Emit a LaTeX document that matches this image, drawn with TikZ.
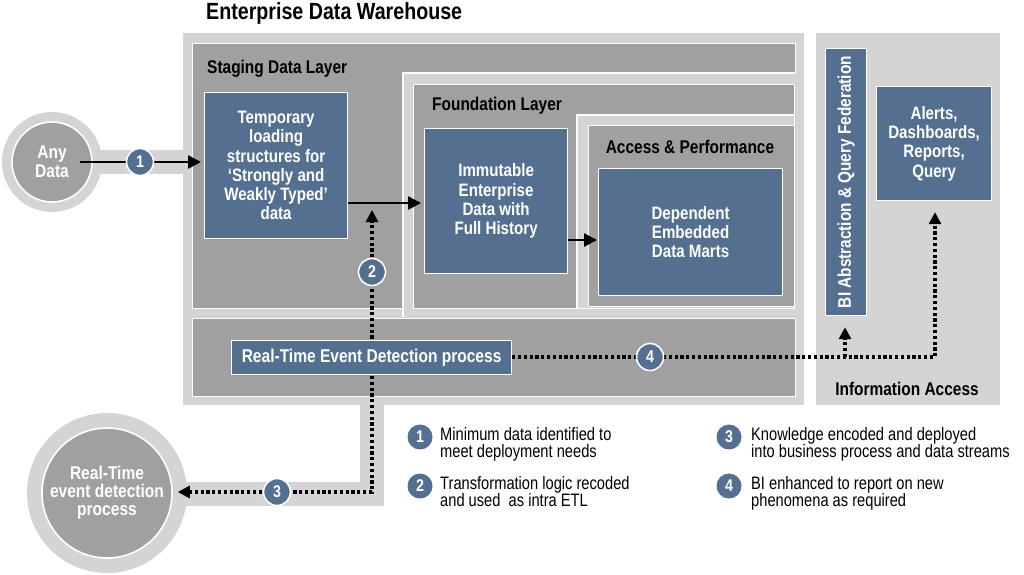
\documentclass[tikz,border=0pt]{standalone}
\usepackage{fontspec}
\setmainfont{Liberation Sans}[FakeStretch=0.84]
\newfontfamily\legfont{Liberation Sans}[FakeStretch=0.815]
\usetikzlibrary{arrows.meta}
\definecolor{lg}{RGB}{212,212,212}
\definecolor{dg}{RGB}{160,160,160}
\definecolor{bl}{RGB}{84,111,143}
\tikzset{
  panel/.style={fill=dg, draw=white, line width=1.2pt, anchor=north west, inner sep=0pt},
  outerbox/.style={fill=lg, draw=none, anchor=north west, inner sep=0pt},
  bluebox/.style={fill=bl, draw=white, line width=1.2pt, text=white, align=center,
    font=\bfseries\fontsize{18}{19.3}\selectfont, anchor=north west, inner sep=0pt},
  layerlabel/.style={font=\bfseries\fontsize{18.4}{20}\selectfont, anchor=west, inner sep=0pt},
  badge/.style={circle, fill=bl, draw=white, line width=1.6pt, minimum size=27pt, inner sep=0pt,
    text=white, font=\bfseries\fontsize{17}{17}\selectfont},
  legbadge/.style={circle, fill=bl, draw=none, minimum size=25pt, inner sep=0pt,
    text=white, font=\bfseries\fontsize{17}{17}\selectfont},
  legtext/.style={font=\legfont\fontsize{18}{17.5}\selectfont, align=left, anchor=north west, inner sep=0pt},
  solidarrow/.style={line width=2.6pt, -{Triangle[length=13pt,width=13pt]}},
  dots/.style={line width=3.2pt, dash pattern=on 3.2pt off 2.6pt},
  dottip/.tip={Triangle[length=12pt,width=12pt]},
}
\begin{document}
\begin{tikzpicture}[x=1pt,y=-1pt]
\useasboundingbox (0,0) rectangle (1024,574);
\fill[white] (0,0) rectangle (1024,574);

% title
\node[font=\bfseries\fontsize{23.4}{25}\selectfont, anchor=west, inner sep=0pt] (title) at (206,13) {Enterprise Data Warehouse};

% light grey connecting bars
\fill[lg] (50,150) rectangle (190,174);
\fill[lg] (360,400) rectangle (384,506);
\fill[lg] (107,482) rectangle (384,506);

% EDW outer
\node[outerbox, minimum width=621pt, minimum height=372pt] (edw) at (183,33) {};
% staging
\node[panel, minimum width=603pt, minimum height=265pt] (staging) at (192,43) {};
\node[layerlabel] (staginglbl) at (207,69) {Staging Data Layer};
% foundation frame
\fill[lg] (403,73) rectangle (804,317);
\draw[white, line width=1.2pt] (403,317) -- (403,73) -- (795,73);
\node[panel, minimum width=381pt, minimum height=224pt] (found) at (413,84) {};
\node[layerlabel] (foundlbl) at (432,106) {Foundation Layer};
% access frame
\fill[lg] (577,115) rectangle (794,308);
\draw[white, line width=1.2pt] (577,308) -- (577,115) -- (794,115);
\node[panel, minimum width=206pt, minimum height=181pt] (access) at (588,125) {};
\node[layerlabel, anchor=center] (accesslbl) at (690,147) {Access \& Performance};
% real-time panel
\node[panel, minimum width=603pt, minimum height=78pt] (rtpanel) at (192,318) {};

% information access
\node[outerbox, minimum width=184pt, minimum height=372pt] (info) at (816,33) {};
\node[layerlabel, anchor=center] (infolbl) at (907,389) {Information Access};

% blue boxes
\node[bluebox, minimum width=143pt, minimum height=146pt] (temp) at (204,92)
  {Temporary\\loading\\structures for\\‘Strongly and\\Weakly Typed’\\data};
\node[bluebox, minimum width=143pt, minimum height=145pt] (imm) at (424,128)
  {Immutable\\Enterprise\\Data with\\Full History};
\node[bluebox, minimum width=184pt, minimum height=127pt] (marts) at (598,168)
  {Dependent\\Embedded\\Data Marts};
\node[bluebox, minimum width=41pt, minimum height=267pt] (bi) at (825,48) {};
\node[font=\bfseries\fontsize{18.3}{20}\selectfont, text=white, rotate=90] (bilbl) at (bi.center) {BI Abstraction \& Query Federation};
\node[bluebox, minimum width=115pt, minimum height=114pt] (alerts) at (876,86)
  {Alerts,\\Dashboards,\\Reports,\\Query};

% circles
\node[circle, fill=lg, minimum size=100pt, inner sep=0pt] (anyout) at (52,162) {};
\node[circle, fill=dg, draw=white, line width=1.6pt, minimum size=80pt, inner sep=0pt,
  text=white, align=center, font=\bfseries\fontsize{18.5}{19}\selectfont] (anyin) at (52,162) {Any\\Data};
\node[circle, fill=lg, minimum size=160pt, inner sep=0pt] (rtout) at (107,493) {};
\node[circle, fill=dg, draw=white, line width=1.6pt, minimum size=130pt, inner sep=0pt,
  text=white, align=center, font=\bfseries\fontsize{18.5}{18}\selectfont] (rtin) at (107,493)
  {Real-Time\\event detection\\process};

% solid connectors
\coordinate (a1) at (80,162);
\coordinate (y203) at (0,203);
\coordinate (y240) at (0,240);
\draw[solidarrow, shorten >=3pt] (a1) -- (temp.west |- a1);
\draw[solidarrow, shorten >=3pt] (temp.east |- y203) -- (imm.west |- y203);
\draw[solidarrow, shorten >=1pt] (imm.east |- y240) -- (marts.west |- y240);

% dotted connector 2/3
\coordinate (c3) at (372,492);
\coordinate (c2) at (372,210);
\draw[dots, dottip-dottip, shorten <=5pt] (rtin.east |- c3) -- (c3) -- (c2);

% real-time event box (over the dotted line)
\node[bluebox, minimum width=280pt, minimum height=34pt, font=\bfseries\fontsize{18.5}{20}\selectfont] (rtev) at (231,340)
  {Real-Time Event Detection process};

% dotted connector 4
\coordinate (c4) at (935,357);
\coordinate (c4b) at (845,357);
\draw[dots, -dottip, shorten >=11pt] (rtev.east |- c4) -- (c4) -- (alerts.south -| c4);
\draw[dots, -dottip, shorten >=11pt] (c4b) -- (bi.south -| c4b);

% badges
\node[badge] (b1) at (140,162) {1};
\node[badge] (b2) at (372,272) {2};
\node[badge] (b3) at (277,492) {3};
\node[badge] (b4) at (650,357) {4};

% legend
\node[legbadge] (l1) at (420,437) {1};
\node[legtext] (t1) at (440,427) {Minimum data identified to\\meet deployment needs};
\node[legbadge] (l2) at (420,486) {2};
\node[legtext] (t2) at (440,476) {Transformation logic recoded\\and used\ \ as intra ETL};
\node[legbadge] (l3) at (729,437) {3};
\node[legtext] (t3) at (751,427) {Knowledge encoded and deployed\\into business process and data streams};
\node[legbadge] (l4) at (729,486) {4};
\node[legtext] (t4) at (751,476) {BI enhanced to report on new\\phenomena as required};
\end{tikzpicture}
\end{document}
